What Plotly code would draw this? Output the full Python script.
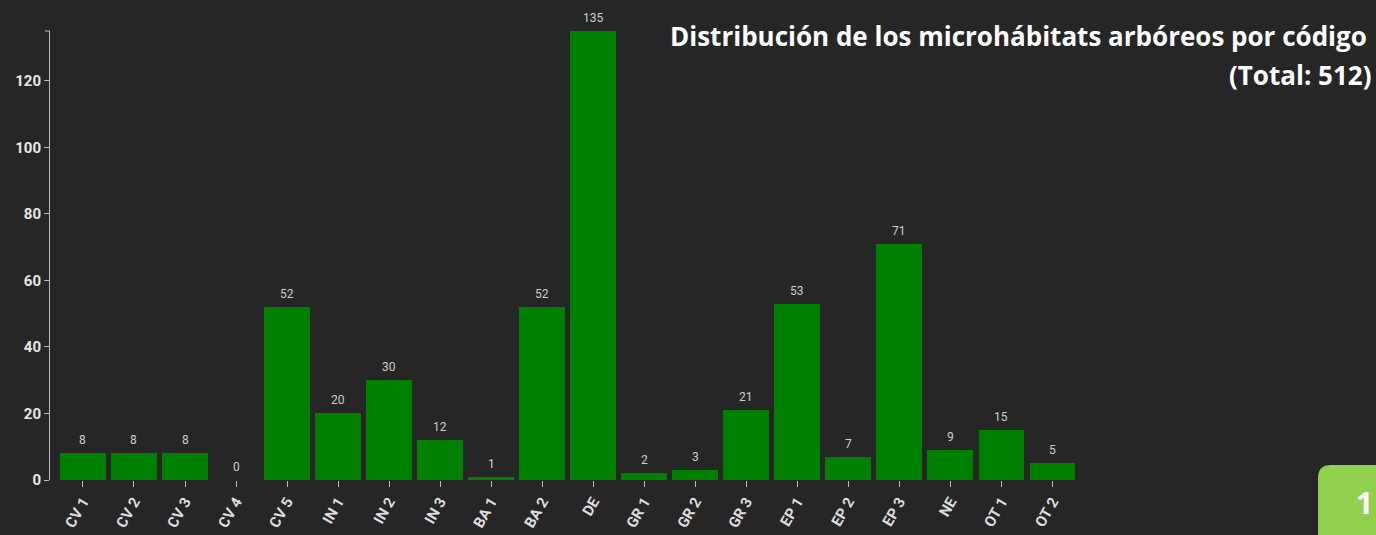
import plotly.graph_objects as go

categories = ["CV 1", "CV 2", "CV 3", "CV 4", "CV 5", "IN 1", "IN 2", "IN 3", "BA 1", "BA 2",
              "DE", "GR 1", "GR 2", "GR 3", "EP 1", "EP 2", "EP 3", "NE", "OT 1", "OT 2"]
values = [8, 8, 8, 0, 52, 20, 30, 12, 1, 52, 135, 2, 3, 21, 53, 7, 71, 9, 15, 5]
y_ticks = [0, 20, 40, 60, 80, 100, 120]
title_line1 = "Distribución de los microhábitats arbóreos por código"
title_line2 = "(Total: 512)"
badge_text = "1"

BG = "#262626"
W, H = 1376, 535
L, R, T, B = 50, 298, 31, 55

fig = go.Figure()
fig.add_trace(go.Bar(
    x=list(range(len(categories))), y=values,
    marker=dict(color="#008000", line=dict(width=0)),
    width=0.9, hoverinfo="skip",
))

for i, v in enumerate(values):
    fig.add_annotation(x=i, y=v, text=str(v), showarrow=False, yanchor="bottom",
                       yshift=4, font=dict(family="Roboto", size=12, color="#cfcfcf"))

fig.update_layout(
    width=W, height=H,
    margin=dict(l=L, r=R, t=T, b=B, pad=0, autoexpand=False),
    paper_bgcolor=BG, plot_bgcolor=BG,
    showlegend=False, bargap=0,
    xaxis=dict(
        range=[-0.646, 19.5], automargin=False,
        tickmode="array", tickvals=list(range(len(categories))), ticktext=categories,
        tickangle=-60, ticks="outside", ticklen=6, tickcolor="#bbbbbb", tickwidth=1,
        showgrid=False, zeroline=False, showline=False,
        tickfont=dict(family="Roboto", size=15, color="#dddddd", weight="bold"),
    ),
    yaxis=dict(
        range=[0, 135], tickmode="array", tickvals=y_ticks, automargin=False,
        ticks="outside", ticklen=5, tickcolor="#bbbbbb", tickwidth=1,
        showline=True, linecolor="#bbbbbb", linewidth=1,
        showgrid=False, zeroline=False,
        tickfont=dict(family="Roboto", size=15, color="#e6e6e6", weight="bold"),
    ),
)

pw, ph = W - L - R, H - T - B
def px(x):
    return (x - L) / pw
def py(y):
    return 1 - (y - T) / ph

# outer tick at the axis top (d3 style)
fig.add_shape(type="line", xref="paper", yref="paper", x0=px(L - 5), x1=0, y0=1, y1=1,
              line=dict(color="#bbbbbb", width=1))

# title
fig.add_annotation(xref="paper", yref="paper", x=px(1369), y=py(36),
                   xanchor="right", yanchor="middle", showarrow=False, align="right",
                   text="<b>" + title_line1 + "</b>",
                   font=dict(family="Open Sans", size=26, color="#ffffff"))
fig.add_annotation(xref="paper", yref="paper", x=px(1373), y=py(75),
                   xanchor="right", yanchor="middle", showarrow=False, align="right",
                   text="<b>" + title_line2 + "</b>",
                   font=dict(family="Open Sans", size=26, color="#ffffff"))

# badge with rounded corner
x0, y0, r = 1318, 465, 13
path = (f"M {px(x0)},{py(H + 5)} L {px(x0)},{py(y0 + r)} "
        f"Q {px(x0)},{py(y0)} {px(x0 + r)},{py(y0)} L {px(W + 5)},{py(y0)} "
        f"L {px(W + 5)},{py(H + 5)} Z")
fig.add_shape(type="path", xref="paper", yref="paper", path=path,
              fillcolor="#92d050", line=dict(width=0), layer="above")
fig.add_annotation(xref="paper", yref="paper", x=px(1375), y=py(502), xanchor="right",
                   yanchor="middle", showarrow=False, text="<b>" + badge_text + "</b>",
                   font=dict(family="Open Sans", size=30, color="#ffffff"))

fig.write_html("out.html", config={"displayModeBar": False},
               post_script="document.body.style.margin='0';document.body.style.overflow='hidden';")
